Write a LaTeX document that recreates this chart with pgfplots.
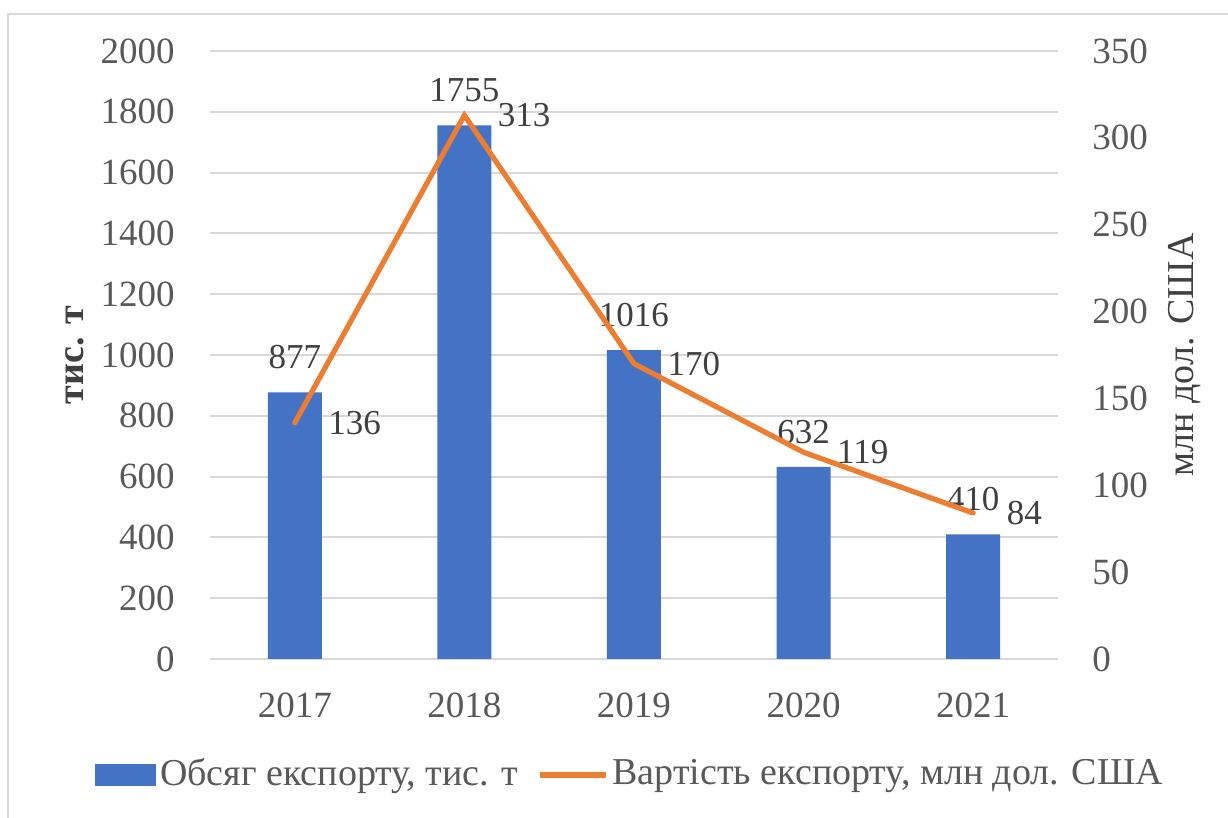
\documentclass[border=0pt]{standalone}
\usepackage{fontspec}
\setmainfont{Liberation Serif}
\usepackage{pgfplots}
\pgfplotsset{compat=1.18}
\definecolor{barblue}{HTML}{4472C4}
\definecolor{lineorange}{HTML}{ED7D31}
\definecolor{gridgrey}{HTML}{D9D9D9}
\definecolor{ticktext}{HTML}{595959}
\definecolor{labtext}{HTML}{404040}
\begin{document}
\fontsize{17.5}{21}\selectfont
\begin{tikzpicture}
\useasboundingbox (0,0) rectangle (614pt,409pt);
\pgfplotsset{
 base/.style={
  at={(105pt,79.5pt)}, anchor=south west, scale only axis, width=424pt, height=304pt,
  xmin=-0.5, xmax=4.5,
  /pgf/number format/assume math mode=true,
  /pgf/number format/1000 sep={},
  tick style={draw=none},
  axis line style={draw=none},
  tick label style={font=\fontsize{18.5}{22}\selectfont},
  clip=false,
 }
}
\begin{axis}[base,
  ymin=0, ymax=2000, ytick={0,200,...,2000},
  ymajorgrids, grid style={gridgrey, line width=1pt},
  xtick={0,1,2,3,4}, xticklabels={2017,2018,2019,2020,2021},
  xticklabel style={anchor=north, inner sep=0pt, yshift=-17pt, text=ticktext},
  yticklabel style={anchor=east, inner sep=0pt, xshift=-17.5pt, text=ticktext},
]
\addplot[ybar, bar width=27pt, fill=barblue, draw=none,
  nodes near coords,
  every node near coord/.append style={anchor=south, inner sep=0pt, yshift=11.5pt, text=labtext}]
  coordinates {(0,877) (1,1755) (2,1016) (3,632) (4,410)};
\node[rotate=90, text=labtext, font=\fontsize{19}{22}\selectfont\bfseries] at ([xshift=-67.5pt]rel axis cs:0,0.5) {тис. т};
\end{axis}
\begin{axis}[base,
  ymin=0, ymax=350, ytick={0,50,...,350},
  xtick=\empty,
  yticklabel pos=right,
  yticklabel style={anchor=west, inner sep=0pt, xshift=17pt, text=ticktext},
  legend columns=2,
  legend style={at={(0,0)}, anchor=west, xshift=-57.5pt, yshift=-58pt,
    draw=none, fill=none, inner sep=0pt, text=ticktext,
    font=\fontsize{19}{22}\selectfont,
    nodes={inner sep=0pt},
    /tikz/every odd column/.append style={column sep=2pt},
    /tikz/every even column/.append style={column sep=9.5pt}},
]
\addlegendimage{legend image code/.code={\fill[barblue] (0pt,-5.25pt) rectangle (30pt,5.25pt);}}
\addlegendentry{Обсяг експорту, тис. т}
\addplot[lineorange, line width=2.6pt, line cap=round, mark=none,
  nodes near coords,
  every node near coord/.append style={anchor=west, inner sep=0pt, xshift=15.5pt, text=labtext},
  legend image code/.code={\draw[lineorange, line width=2.6pt, line cap=butt] (0pt,0pt) -- (33pt,0pt);}]
  coordinates {(0,136) (1,313) (2,170) (3,119) (4,84)};
\addlegendentry{Вартість експорту, млн дол. США}
\node[rotate=90, text=labtext, font=\fontsize{19}{22}\selectfont] at ([xshift=63.5pt]rel axis cs:1,0.5) {млн дол. США};
\end{axis}
\draw[gridgrey, line width=1pt] (4pt,0pt) -- (4pt,402pt) -- (614pt,402pt);
\end{tikzpicture}
\end{document}
